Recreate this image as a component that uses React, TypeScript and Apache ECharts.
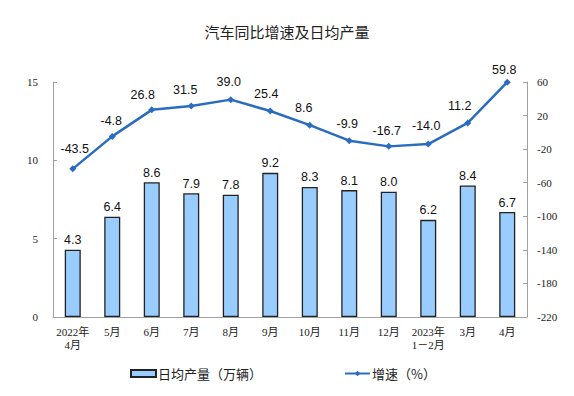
import React, { useEffect, useRef } from "react";
import * as echarts from "echarts";

const categories = [
  "2022年\n4月", "5月", "6月", "7月", "8月", "9月",
  "10月", "11月", "12月", "2023年\n1－2月", "3月", "4月",
];
const dailyOutput = [4.3, 6.4, 8.6, 7.9, 7.8, 9.2, 8.3, 8.1, 8.0, 6.2, 8.4, 6.7];
const growth = [-43.5, -4.8, 26.8, 31.5, 39.0, 25.4, 8.6, -9.9, -16.7, -14.0, 11.2, 59.8];
const leftTicks = [0, 5, 10, 15];
const rightTicks = [-220, -180, -140, -100, -60, -20, 20, 60];

// label nudges (style only)
const labelNudge: [number, number][] = [
  [2, -5], [-1, 0], [-9, 0], [-6, -1], [-2, -3], [-4, -2],
  [-6, -2], [-2, -2], [-2, 0], [-2, -3], [-8, -2], [-3, 3],
];

export default function App() {
  const ref = useRef<HTMLDivElement>(null);
  useEffect(() => {
    if (!ref.current) return;
    const chart = echarts.init(ref.current, undefined, { renderer: "svg" });
    const axisColor = "#a0a0a0";
    chart.setOption({
      animation: false,
      backgroundColor: "#fff",
      title: {
        text: "汽车同比增速及日均产量",
        left: "center",
        top: 19,
        textStyle: {
          fontFamily: "Noto Sans CJK SC",
          fontSize: 15,
          fontWeight: "normal",
          color: "#222",
        },
      },
      grid: { left: 53, right: 47, top: 82, bottom: 79 },
      legend: {
        left: 125,
        top: 362,
        itemGap: 82,
        itemWidth: 25,
        itemHeight: 7,
        textStyle: { fontFamily: "Noto Sans CJK SC", fontSize: 13, color: "#222", padding: [0, 0, 0, -3] },
        data: [
          { name: "日均产量（万辆）", icon: "rect" },
          { name: "增速（%）" },
        ],
      },
      xAxis: {
        type: "category",
        data: categories,
        axisLine: { lineStyle: { color: axisColor, width: 1 } },
        axisTick: { inside: true, length: 4, lineStyle: { color: axisColor } },
        axisLabel: {
          margin: 8,
          fontFamily: "Liberation Serif, Noto Sans CJK SC",
          fontSize: 11,
          lineHeight: 13,
          color: "#222",
          interval: 0,
        },
      },
      yAxis: [
        {
          type: "value",
          min: 0,
          max: 15,
          interval: 5,
          splitLine: { show: false },
          axisLine: { show: true, lineStyle: { color: axisColor } },
          axisTick: { show: true, inside: true, length: 4, lineStyle: { color: axisColor } },
          axisLabel: {
            margin: 15,
            fontFamily: "Liberation Serif",
            fontSize: 11,
            color: "#222",
            customValues: leftTicks,
          },
        },
        {
          type: "value",
          min: -220,
          max: 60,
          position: "right",
          splitLine: { show: false },
          axisLine: { show: true, lineStyle: { color: axisColor } },
          axisTick: { show: true, inside: true, length: 4, lineStyle: { color: axisColor }, customValues: rightTicks },
          axisLabel: {
            margin: 10,
            fontFamily: "Liberation Serif",
            fontSize: 11,
            color: "#222",
            customValues: rightTicks,
          },
        },
      ],
      series: [
        {
          name: "日均产量（万辆）",
          type: "bar",
          yAxisIndex: 0,
          data: dailyOutput,
          barWidth: 16,
          itemStyle: { color: "#99ccff", borderColor: "#222", borderWidth: 1.3 },
          label: {
            show: true,
            position: "top",
            distance: 3,
            fontFamily: "Liberation Sans",
            fontSize: 12.5,
            color: "#111",
            formatter: (p: any) => Number(p.value).toFixed(1),
          },
        },
        {
          name: "增速（%）",
          type: "line",
          yAxisIndex: 1,
          data: growth.map((v, i) => ({
            value: v,
            label: { offset: labelNudge[i] },
          })),
          symbol: "diamond",
          symbolSize: 7,
          lineStyle: { color: "#2a6cc0", width: 2.5 },
          itemStyle: { color: "#2a6cc0" },
          label: {
            show: true,
            position: "top",
            distance: 5,
            fontFamily: "Liberation Sans",
            fontSize: 12.5,
            color: "#111",
            formatter: (p: any) => Number(p.value).toFixed(1),
          },
        },
      ],
    });
    return () => chart.dispose();
  }, []);
  return <div ref={ref} style={{ width: 574, height: 396, position: "absolute", left: 0, top: 0 }} />;
}
